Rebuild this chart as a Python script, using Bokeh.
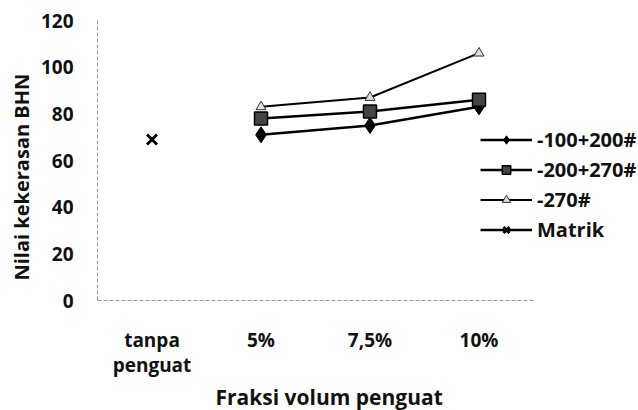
from bokeh.plotting import figure
from bokeh.models import Range1d, Legend, LegendItem, FixedTicker, LinearAxis, Title
from bokeh.embed import file_html
from bokeh.resources import INLINE

categories = ["tanpa", "5%", "7,5%", "10%"]
cat_second_line = {"tanpa": "penguat"}
x_reinf = ["5%", "7,5%", "10%"]
s_100_200 = [71, 75, 83]
s_200_270 = [78, 81, 86]
s_270 = [83, 87, 106]
x_matrik = ["tanpa"]
s_matrik = [69]
y_ticks = [0, 20, 40, 60, 80, 100, 120]

FONT = "Open Sans"
FS = "19px"

def pos(cats):
    return [categories.index(c) + 0.5 for c in cats]

n = len(categories)
px_per_cat = 109
frame_w = 541
p = figure(width=638, height=410, x_range=Range1d(0, frame_w / px_per_cat),
           y_range=Range1d(0, 120), output_backend="svg", toolbar_location=None,
           x_axis_location=None,
           min_border_left=97, min_border_right=0, min_border_top=20, min_border_bottom=0)
p.outline_line_color = None
p.xgrid.grid_line_color = None
p.ygrid.grid_line_color = None

xr = pos(x_reinf)
r1 = p.line(xr, s_100_200, line_color="black", line_width=2.5)
m1 = p.scatter(xr, s_100_200, marker="diamond", size=16, fill_color="black", line_color="black")
r2 = p.line(xr, s_200_270, line_color="black", line_width=2.5)
m2 = p.scatter(xr, s_200_270, marker="square", size=13, fill_color="#444444", line_color="black", line_width=1.5)
r3 = p.line(xr, s_270, line_color="black", line_width=2)
m3 = p.scatter(xr, s_270, marker="triangle", size=10, fill_color="#dddddd", line_color="#333333", line_width=1)
xm = pos(x_matrik)
r4 = p.line(xm, s_matrik, line_color="black", line_width=2.5)
m4 = p.scatter(xm, s_matrik, marker="x", size=14, line_color="black", line_width=3)

def style(ax):
    ax.major_tick_line_color = None
    ax.minor_tick_line_color = None
    ax.major_tick_out = 0
    ax.major_tick_in = 0
    ax.minor_tick_out = 0
    ax.minor_tick_in = 0
    ax.axis_line_color = "#9a9a9a"
    ax.axis_line_width = 1
    ax.axis_line_dash = "4 2"
    ax.major_label_text_font = FONT
    ax.major_label_text_font_style = "bold"
    ax.major_label_text_font_size = FS
    ax.major_label_text_color = "#111111"

ya = p.yaxis[0]
style(ya)
ya.ticker = FixedTicker(ticks=y_ticks)
ya.major_label_standoff = 24

ytitle = Title(text="Nilai kekerasan BHN", align="left", offset=20,
               text_font=FONT, text_font_style="bold", text_font_size="20px",
               text_color="#111111", standoff=6)
p.add_layout(ytitle, "left")

xticks = pos(categories)
xa = LinearAxis(ticker=FixedTicker(ticks=xticks), bounds=(0, n),
                major_label_overrides={t: c for t, c in zip(xticks, categories)})
style(xa)
xa.major_label_standoff = 26
p.add_layout(xa, "below")

t2 = pos(list(cat_second_line))
xa2 = LinearAxis(ticker=FixedTicker(ticks=t2),
                 major_label_overrides={t: cat_second_line[c] for t, c in zip(t2, cat_second_line)})
style(xa2)
xa2.axis_line_color = None
xa2.major_label_standoff = -4
p.add_layout(xa2, "below")

xtitle = Title(text="Fraksi volum penguat", align="left", offset=118,
               text_font=FONT, text_font_style="bold", text_font_size="21px",
               text_color="#111111", standoff=0)
p.add_layout(xtitle, "below")

legend = Legend(items=[
    LegendItem(label="-100+200#", renderers=[r1, m1]),
    LegendItem(label="-200+270#", renderers=[r2, m2]),
    LegendItem(label="-270#", renderers=[r3, m3]),
    LegendItem(label="Matrik", renderers=[r4, m4]),
], location=(383, 57), orientation="vertical")
legend.border_line_color = None
legend.background_fill_alpha = 0
legend.padding = 0
legend.margin = 0
legend.spacing = 3
legend.glyph_width = 52
legend.glyph_height = 21
legend.label_standoff = 5
legend.label_text_font = FONT
legend.label_text_font_style = "bold"
legend.label_text_font_size = "20px"
legend.label_text_color = "#111111"
p.add_layout(legend, "center")

open("out.html", "w").write(file_html(p, INLINE))
